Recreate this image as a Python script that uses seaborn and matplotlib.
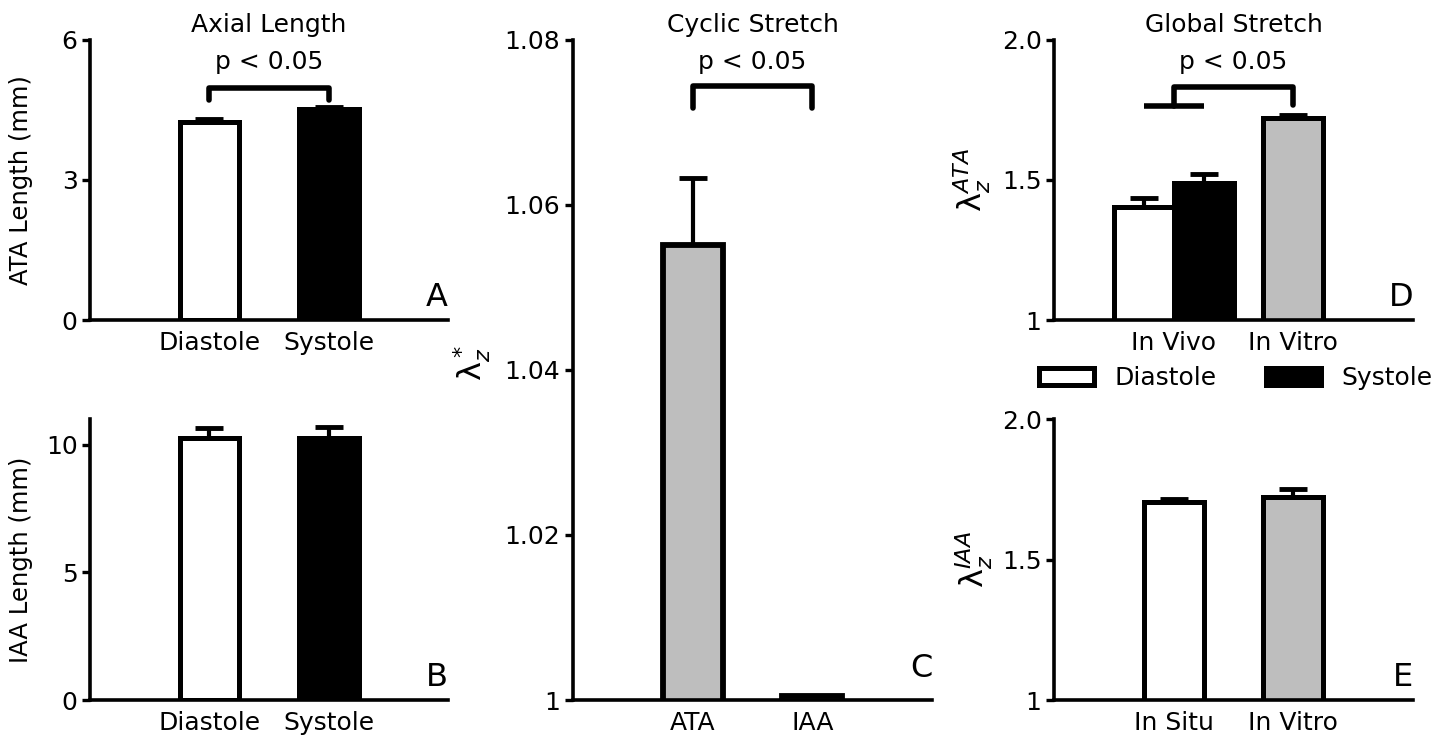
import matplotlib

matplotlib.use("Agg")

import matplotlib.pyplot as plt
import numpy as np
import pandas as pd
import seaborn as sns
from matplotlib.patches import Patch

# --- data (mean, upper SEM) ---
phases = ["Diastole", "Systole"]
ata_len_mean = [4.25, 4.515]
ata_len_err = [0.06, 0.045]
iaa_len_mean = [10.25, 10.27]
iaa_len_err = [0.41, 0.40]

vessels = ["ATA", "IAA"]
cyclic_mean = [1.0552, 1.0005]
cyclic_err = [0.0081, 0.0]

ata_sites = ["In Vivo", "In Vitro"]
ata_vivo_mean = [1.404, 1.489]
ata_vivo_err = [0.033, 0.033]
ata_vitro_mean = [1.72]
ata_vitro_err = [0.012]

iaa_sites = ["In Situ", "In Vitro"]
iaa_stretch_mean = [1.703, 1.722]
iaa_stretch_err = [0.012, 0.028]

WHITE, BLACK, GRAY = "white", "black", "#bebebe"
EDGE_LW = 3.6
TICK_FS = 18
LABEL_FS = 17.5
LAMBDA_FS = 23
LETTER_FS = 23

sns.set_theme(style="ticks")
plt.rcParams["font.family"] = ["DejaVu Sans"]
plt.rcParams["mathtext.fontset"] = "dejavusans"
plt.rcParams["text.color"] = "black"
plt.rcParams["axes.labelcolor"] = "black"


def style_axis(ax, yticks, yticklabels, ylim, letter):
    sns.despine(ax=ax)
    for side in ["left", "bottom"]:
        ax.spines[side].set_linewidth(2.6)
        ax.spines[side].set_color("black")
    ax.set_xlim(-1, 2)
    ax.set_ylim(*ylim)
    ax.set_yticks(yticks)
    ax.set_yticklabels(yticklabels)
    ax.tick_params(axis="y", length=6, width=2.4, pad=3, labelsize=TICK_FS, colors="black")
    ax.tick_params(axis="x", length=0, pad=8, labelsize=TICK_FS, colors="black")
    ax.set_xlabel("")
    ax.text(1.0, 0.025, letter, transform=ax.transAxes, ha="right", va="bottom",
            fontsize=LETTER_FS, color="black")


def add_errors(ax, bars, errs):
    xs = [b.get_x() + b.get_width() / 2 for b in bars]
    tops = [b.get_height() for b in bars]
    ax.errorbar(xs, tops, yerr=[np.zeros(len(errs)), errs], fmt="none", ecolor="black",
                elinewidth=3, capsize=10, capthick=3.5, zorder=1)


def bracket(ax, x0, x1, y_low0, y_low1, y_top, y_text):
    ax.plot([x0, x0, x1, x1], [y_low0, y_top, y_top, y_low1], color="black", lw=4,
            solid_capstyle="round", solid_joinstyle="round", clip_on=False)
    ax.text((x0 + x1) / 2, y_text, "p < 0.05", ha="center", va="center", fontsize=TICK_FS)


fig = plt.figure(figsize=(14.52, 7.36), dpi=100)
ax_a = fig.add_axes([0.062, 0.5652, 0.2466, 0.3805])
ax_b = fig.add_axes([0.062, 0.0489, 0.2466, 0.3818])
ax_c = fig.add_axes([0.3946, 0.0489, 0.2473, 0.8968])
ax_d = fig.add_axes([0.7259, 0.5652, 0.2473, 0.3805])
ax_e = fig.add_axes([0.7259, 0.0489, 0.2473, 0.3818])

# A: ATA axial length
df_a = pd.DataFrame({"phase": phases, "value": ata_len_mean})
sns.barplot(df_a, x="phase", y="value", hue="phase", palette=[WHITE, BLACK], legend=False,
            width=0.5, edgecolor="black", linewidth=EDGE_LW, errorbar=None, ax=ax_a, zorder=2)
add_errors(ax_a, ax_a.patches, ata_len_err)
style_axis(ax_a, [0, 3, 6], ["0", "3", "6"], (0, 6), "A")
ax_a.set_ylabel("ATA Length (mm)", fontsize=LABEL_FS)
ax_a.yaxis.set_label_coords(-0.16, 0.5)
ax_a.set_title("Axial Length", fontsize=TICK_FS, pad=6)
bracket(ax_a, 0, 1, 4.72, 4.72, 4.97, 5.52)

# B: IAA axial length
df_b = pd.DataFrame({"phase": phases, "value": iaa_len_mean})
sns.barplot(df_b, x="phase", y="value", hue="phase", palette=[WHITE, BLACK], legend=False,
            width=0.5, edgecolor="black", linewidth=EDGE_LW, errorbar=None, ax=ax_b, zorder=2)
add_errors(ax_b, ax_b.patches, iaa_len_err)
style_axis(ax_b, [0, 5, 10], ["0", "5", "10"], (0, 11), "B")
ax_b.set_ylabel("IAA Length (mm)", fontsize=LABEL_FS)
ax_b.yaxis.set_label_coords(-0.16, 0.5)

# C: cyclic stretch
df_c = pd.DataFrame({"vessel": vessels, "value": cyclic_mean})
sns.barplot(df_c, x="vessel", y="value", color=GRAY, width=0.5, edgecolor="black",
            linewidth=EDGE_LW + 0.6, errorbar=None, ax=ax_c, zorder=2)
add_errors(ax_c, ax_c.patches[:1], cyclic_err[:1])
style_axis(ax_c, [1, 1.02, 1.04, 1.06, 1.08], ["1", "1.02", "1.04", "1.06", "1.08"],
           (1, 1.08), "C")
ax_c.set_ylabel(r"$\mathrm{\lambda}_z^*$", fontsize=LAMBDA_FS)
ax_c.yaxis.set_label_coords(-0.222, 0.51)
ax_c.set_title("Cyclic Stretch", fontsize=TICK_FS, pad=6)
bracket(ax_c, 0, 1, 1.0718, 1.0718, 1.0744, 1.0773)

# D: global stretch ATA
df_d_vivo = pd.DataFrame({"site": ["In Vivo"] * 2, "phase": phases, "value": ata_vivo_mean})
df_d_vitro = pd.DataFrame({"site": ["In Vitro"], "value": ata_vitro_mean})
sns.barplot(df_d_vivo, x="site", y="value", hue="phase", order=ata_sites, hue_order=phases,
            palette=[WHITE, BLACK], legend=False, width=1.0, edgecolor="black",
            linewidth=EDGE_LW, errorbar=None, ax=ax_d, zorder=2)
sns.barplot(df_d_vitro, x="site", y="value", order=ata_sites, color=GRAY, width=0.5,
            edgecolor="black", linewidth=EDGE_LW, errorbar=None, ax=ax_d, zorder=2)
add_errors(ax_d, ax_d.patches, ata_vivo_err + ata_vitro_err)
style_axis(ax_d, [1, 1.5, 2], ["1", "1.5", "2.0"], (1, 2), "D")
ax_d.set_ylabel(r"$\mathrm{\lambda}_z^{ATA}$", fontsize=LAMBDA_FS)
ax_d.yaxis.set_label_coords(-0.17, 0.5)
ax_d.set_title("Global Stretch", fontsize=TICK_FS, pad=6)
ax_d.plot([-0.25, 0.25], [1.764, 1.764], color="black", lw=4, solid_capstyle="butt")
bracket(ax_d, 0, 1, 1.764, 1.768, 1.832, 1.92)

# E: global stretch IAA
df_e = pd.DataFrame({"site": iaa_sites, "value": iaa_stretch_mean})
sns.barplot(df_e, x="site", y="value", hue="site", palette=[WHITE, GRAY], legend=False,
            width=0.5, edgecolor="black", linewidth=EDGE_LW, errorbar=None, ax=ax_e, zorder=2)
add_errors(ax_e, ax_e.patches, iaa_stretch_err)
style_axis(ax_e, [1, 1.5, 2], ["1", "1.5", "2.0"], (1, 2), "E")
ax_e.set_ylabel(r"$\mathrm{\lambda}_z^{IAA}$", fontsize=LAMBDA_FS)
ax_e.yaxis.set_label_coords(-0.165, 0.5)

handles = [Patch(facecolor=WHITE, edgecolor="black", linewidth=EDGE_LW),
           Patch(facecolor=BLACK, edgecolor="black", linewidth=EDGE_LW)]
fig.legend(handles, phases, loc="center", bbox_to_anchor=(0.851, 0.486), ncol=2,
           frameon=False, fontsize=TICK_FS, handlelength=2.2, handletextpad=0.8,
           columnspacing=2.0)

fig.savefig("out.png", dpi=100)
